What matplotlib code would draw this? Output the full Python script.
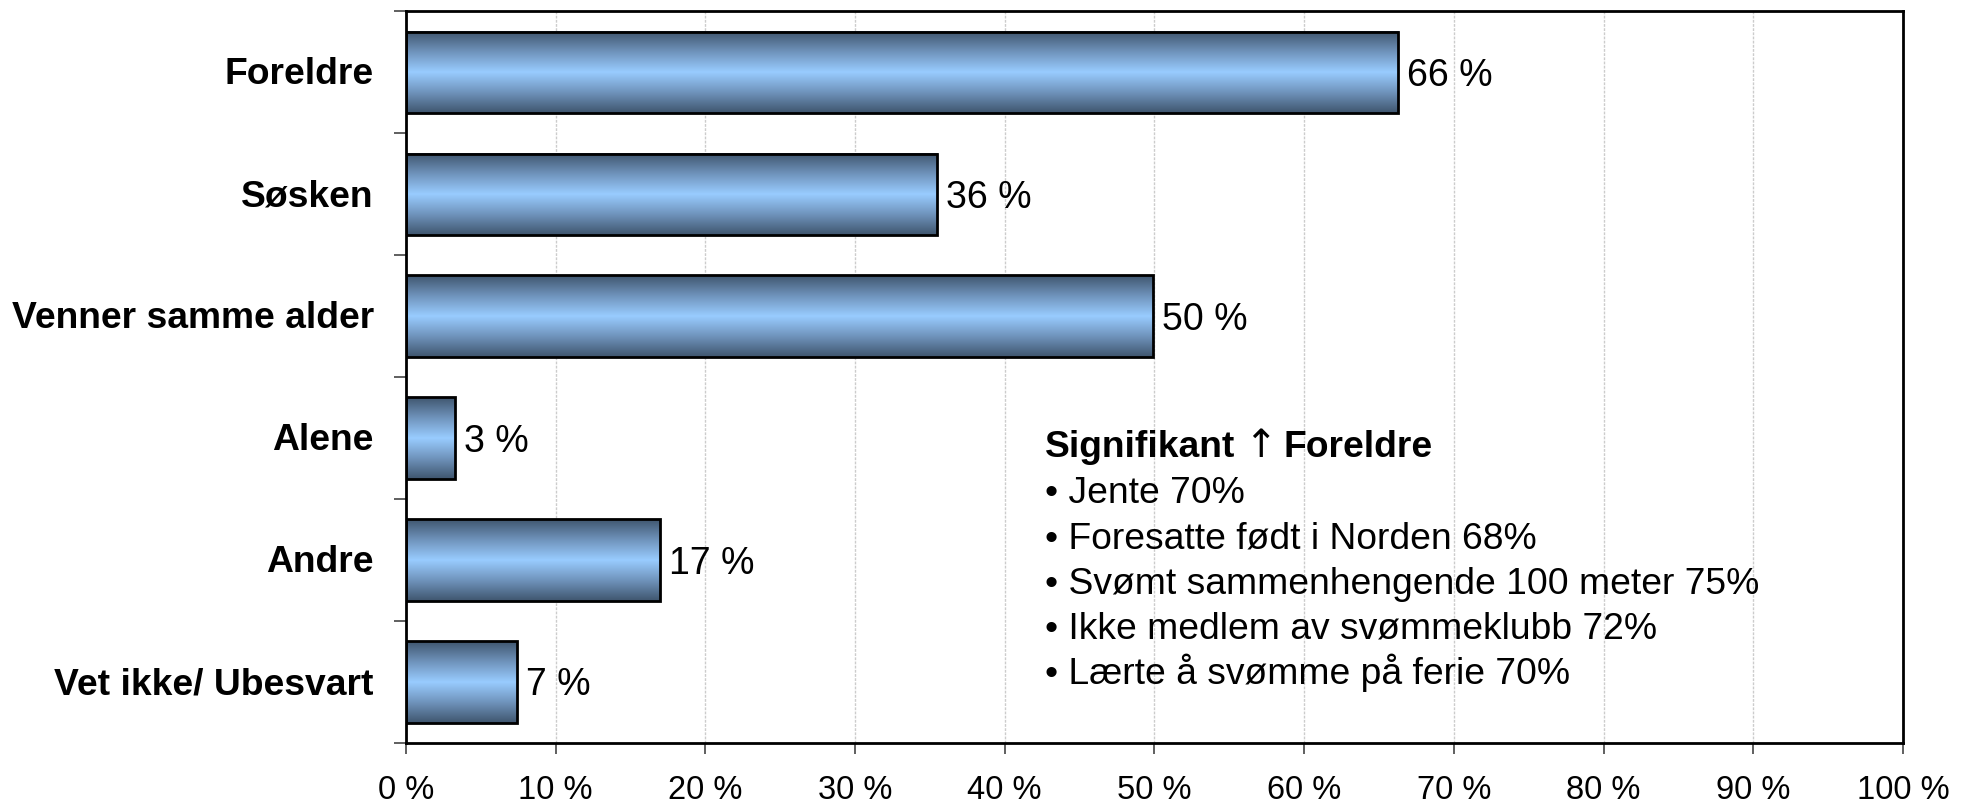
import numpy as np
import matplotlib.pyplot as plt
import matplotlib.transforms as mtransforms
from matplotlib.colors import LinearSegmentedColormap

plt.rcParams['font.family'] = ['Liberation Sans', 'DejaVu Sans']

categories = ['Foreldre', 'Søsken', 'Venner samme alder', 'Alene', 'Andre', 'Vet ikke/ Ubesvart']
values = [66.3, 35.5, 49.9, 3.3, 17.0, 7.4]
value_labels = ['66 %', '36 %', '50 %', '3 %', '17 %', '7 %']
x_ticks = [0, 10, 20, 30, 40, 50, 60, 70, 80, 90, 100]
x_tick_labels = ['%d %%' % t for t in x_ticks]

note_title = ['Signifikant', '\u2191', 'Foreldre']
note_lines = ['Jente 70%',
              'Foresatte født i Norden 68%',
              'Svømt sammenhengende 100 meter 75%',
              'Ikke medlem av svømmeklubb 72%',
              'Lærte å svømme på ferie 70%']

fig = plt.figure(figsize=(19.7, 8.04), dpi=100)
ax = fig.add_axes([0.206, 0.0746, 0.760, 0.9099])

# gradient: dark edges, light blue middle
grad_cmap = LinearSegmentedColormap.from_list('bar', ['#3f556e', '#6f93bb', '#99ccff', '#6f93bb', '#3f556e'])
grad = np.linspace(0, 1, 256).reshape(-1, 1)

bar_h = 0.67
y = np.arange(len(categories))
for yi, v, lab in zip(y, values, value_labels):
    ax.imshow(grad, cmap=grad_cmap, aspect='auto', interpolation='bilinear',
              extent=[0, v, yi + bar_h / 2, yi - bar_h / 2], zorder=2)
    ax.barh(yi, v, height=bar_h, facecolor='none', edgecolor='black', linewidth=2, zorder=3)
    ax.text(v + 0.6, yi + 0.02, lab, va='center', ha='left', fontsize=27)

ax.set_xlim(0, 100)
ax.set_ylim(len(categories) - 0.5, -0.5)

ax.set_xticks(x_ticks)
ax.set_xticklabels(x_tick_labels, fontsize=23.5)
ax.tick_params(axis='x', direction='out', length=8, width=1.2, pad=14.5, color='#444444')
ax.xaxis.grid(True, color='#cccccc', linewidth=1, linestyle=(0, (2, 1)))
ax.set_axisbelow(True)

ax.set_yticks(np.arange(-0.5, len(categories), 1.0))
ax.set_yticklabels([])
ax.set_yticks(y, minor=True)
ax.set_yticklabels(categories, minor=True, fontsize=26.8, fontweight='bold', va='center_baseline')
ax.tick_params(axis='y', which='major', direction='out', length=9, width=1.2, color='#444444')
ax.tick_params(axis='y', which='minor', length=0, pad=23)
shift_up = mtransforms.ScaledTranslation(0, 2.5 / 100, fig.dpi_scale_trans)
for lbl in ax.get_yticklabels(minor=True):
    lbl.set_transform(lbl.get_transform() + shift_up)

for s in ax.spines.values():
    s.set_linewidth(2)
    s.set_color('black')

# note text
ty = 3.15
t = ax.text(42.7, ty, note_title[0], fontsize=26.8, fontweight='bold', va='baseline', ha='left')
t = ax.annotate(note_title[1], xy=(1, 0), xycoords=t, xytext=(6, 0), textcoords='offset points',
                va='bottom', ha='left', fontsize=28, family='DejaVu Sans')
ax.annotate(note_title[2], xy=(1, 0), xycoords=t, xytext=(5, 0), textcoords='offset points',
            va='bottom', ha='left', fontsize=26.8, fontweight='bold')
for i, line in enumerate(note_lines):
    ax.text(42.7, ty + (i + 1) * 0.372, '\u2022 ' + line, fontsize=26.8, va='baseline', ha='left')

fig.savefig('out.png', dpi=100)
